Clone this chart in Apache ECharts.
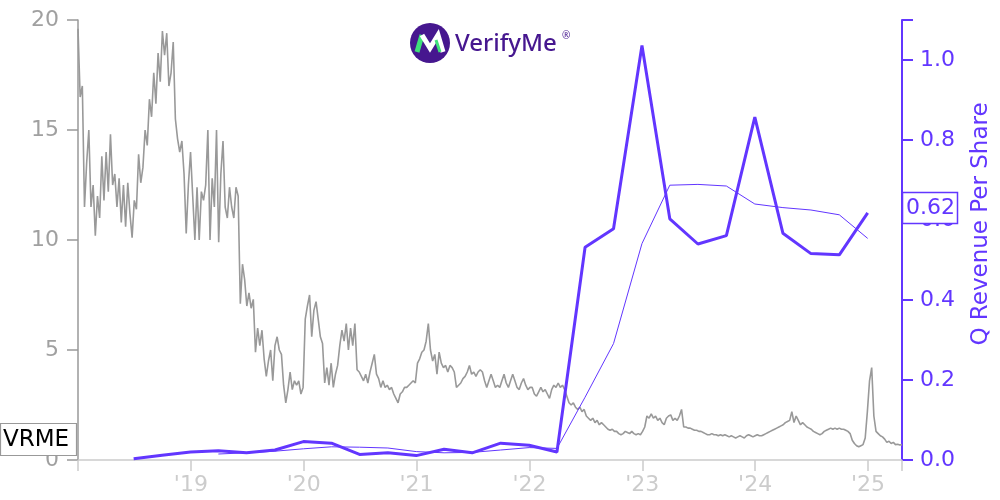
<!DOCTYPE html>
<html>
<head>
<meta charset="utf-8">
<script src="https://cdn.jsdelivr.net/npm/echarts@6/dist/echarts.min.js"></script>
<style>
html,body{margin:0;padding:0;background:#fff;}
#chart{width:1000px;height:500px;}
</style>
</head>
<body>
<div id="chart"></div>
<script>
// ---------- DATA ----------
const ticker = 'VRME';
const priceStart = '2018-01-01';   // weekly closes from this date
const priceStepDays = 7;
const price2018 = [19.6,16.5,17.0,11.5,13.5,15.0,11.5,12.5,10.2,12.0,11.0,13.8,11.8,14.0,12.2,14.8,12.5,13.0,11.5,12.8,10.8,12.5,10.6,12.6,11.2,10.1,11.8,11.4,13.9,12.6,13.3,15.0,14.3,16.4,15.6,17.6,16.2,18.5,17.2,19.5,18.4,19.4,17.0,17.6,19.0,15.5,14.6,14.0,14.5,13.0,10.3,12.5];
const price2019 = [14.0,12.0,10.0,12.4,10.0,12.2,11.8,12.5,15.0,10.0,12.8,11.5,15.0,9.9,13.0,14.5,11.5,11.0,12.4,11.5,11.0,12.4,12.0,7.1,8.9,8.2,7.0,7.6,6.9,7.3,4.9,6.0,5.2,5.9,4.6,3.8,4.5,5.0,3.6,5.2,5.6,5.0,4.8,3.4,2.6,3.2,4.0,3.2,3.6,3.4,3.6,3.0];
const price2020 = [3.3,6.4,7.0,7.5,5.6,6.8,7.2,6.4,5.6,5.3,3.5,4.2,3.4,4.4,3.3,3.9,4.3,5.2,5.9,5.4,6.2,5.0,6.0,5.2,6.2,4.1,4.0,3.8,3.6,3.9,3.5,4.0,4.4,4.8,3.9,3.7,3.3,3.6,3.3,3.4,3.2,3.3,3.0,2.8,2.6,3.0,3.1,3.3,3.3];
const price2021 = [3.4,3.5,3.6,3.5,4.4,4.6,4.9,5.0,5.4,6.2,5.0,4.5,4.8,3.9,4.9,4.4,4.2,4.3,4.0,4.3,4.2,4.0,3.3,3.4,3.5,3.7,3.8,4.0,4.3,3.9,4.0,3.8,4.0,4.1,4.0,3.6,3.3,3.6,3.9,3.6,3.3,3.4,3.3,3.6,3.9,3.5,3.3,3.6,3.9,3.6,3.3,3.2,3.5,3.7,3.4,3.2];
const price2022 = [3.3,3.3,3.0,2.9,3.1,3.3,3.1,3.2,3.0,2.8,3.2,3.4,3.3,3.5,3.3,3.4,3.2,2.9,2.6,2.5,2.6,2.4,2.3,2.4,2.2,2.3,2.0,1.9,1.8,1.9,1.7,1.8,1.6,1.7,1.6,1.5,1.4,1.35,1.4,1.3,1.3,1.2,1.15,1.2,1.3,1.25,1.2,1.3,1.2,1.15,1.2,1.15];
const price2023 = [1.3,1.5,2.0,1.9,2.1,1.9,2.0,1.8,1.9,1.7,1.6,1.9,2.0,2.05,1.8,1.9,1.8,2.0,2.3,1.5,1.5,1.45,1.45,1.4,1.35,1.35,1.3,1.3,1.25,1.2,1.15,1.15,1.2,1.15,1.15,1.1,1.15,1.1,1.15,1.1,1.05,1.1,1.05,1.0,1.05,1.1,1.05,1.0,1.1,1.15,1.1,1.05];
const price2024 = [1.1,1.15,1.1,1.1,1.15,1.2,1.25,1.3,1.35,1.4,1.45,1.5,1.55,1.6,1.7,1.75,1.8,2.2,1.7,2.0,1.8,1.6,1.7,1.6,1.5,1.45,1.4,1.3,1.25,1.2,1.15,1.2,1.3,1.35,1.4,1.45,1.4,1.45,1.4,1.45,1.4,1.4,1.35,1.3,1.2,0.9,0.75,0.65,0.6,0.65,0.7,1.0];
const price2025 = [2.2,3.6,4.2,2.0,1.3,1.2,1.1,1.05,0.95,0.8,0.85,0.75,0.8,0.7,0.72,0.68,0.7];

const revDates = ['2018-06-30','2018-09-30','2018-12-31','2019-03-31','2019-06-30','2019-09-30','2019-12-31','2020-03-31','2020-06-30','2020-09-30','2020-12-31','2021-03-31','2021-06-30','2021-09-30','2021-12-31','2022-03-31','2022-06-30','2022-09-30','2022-12-31','2023-03-31','2023-06-30','2023-09-30','2023-12-31','2024-03-31','2024-06-30','2024-09-30','2024-12-31'];
const revPerShare = [0.003,0.012,0.020,0.023,0.018,0.025,0.046,0.042,0.014,0.018,0.011,0.027,0.018,0.042,0.037,0.020,0.532,0.578,1.036,0.603,0.540,0.561,0.857,0.567,0.516,0.513,0.618];
const avgDates = revDates.slice(3);
const avgRevPerShare = [0.015,0.018,0.022,0.028,0.033,0.032,0.030,0.021,0.018,0.019,0.025,0.031,0.029,0.157,0.291,0.541,0.687,0.689,0.685,0.640,0.631,0.625,0.613,0.554];

const leftTicks = {min:0, max:20, interval:5};
const rightTicks = {min:0, max:1.1, interval:0.2};
const lastRevLabel = '0.62';
const rightAxisName = 'Q Revenue Per Share';
const brandName = 'VerifyMe';

// ---------- HELPERS ----------
function toYear(d){
  const y = d.getUTCFullYear();
  const s = Date.UTC(y,0,1), e = Date.UTC(y+1,0,1);
  return y + (d.getTime()-s)/(e-s);
}
function parseDate(str){ const p = str.split('-').map(Number); return new Date(Date.UTC(p[0],p[1]-1,p[2])); }

const priceAll = [].concat(price2018,price2019,price2020,price2021,price2022,price2023,price2024,price2025);
const startDate = parseDate(priceStart);
const priceData = priceAll.map((v,i)=>[toYear(new Date(startDate.getTime()+i*priceStepDays*86400000)), v]);
const revData = revDates.map((d,i)=>[toYear(parseDate(d)), revPerShare[i]]);
const avgData = avgDates.map((d,i)=>[toYear(parseDate(d)), avgRevPerShare[i]]);

const PURPLE = '#6236ff';
const FONT = 'DejaVu Sans';

const chart = echarts.init(document.getElementById('chart'), null, {renderer:'canvas'});
const option = {
  animation:false,
  backgroundColor:'#fff',
  grid:{left:78, right:98, top:20, bottom:40, containLabel:false},
  xAxis:{
    type:'value', min:2018, max:'dataMax', interval:1,
    axisLine:{show:true, onZero:false, lineStyle:{color:'#cccccc', width:1.5}},
    axisTick:{show:true, length:11, lineStyle:{color:'#cccccc', width:1.5}},
    axisLabel:{margin:14, color:'#cccccc', fontFamily:FONT, fontSize:22,
      formatter:function(v){ return (Math.abs(v-Math.round(v))<1e-6 && v>2018.5) ? "'" + String(Math.round(v)).slice(2) : ''; }},
    splitLine:{show:false}
  },
  yAxis:[{
    type:'value', position:'left', min:leftTicks.min, max:leftTicks.max, interval:leftTicks.interval,
    axisLine:{show:true, lineStyle:{color:'#999999', width:1.5}},
    axisTick:{show:true, length:11, lineStyle:{color:'#999999', width:1.5}},
    axisLabel:{margin:19, color:'#a0a0a0', fontFamily:FONT, fontSize:22},
    splitLine:{show:false}
  },{
    type:'value', position:'right', min:rightTicks.min, max:rightTicks.max, interval:rightTicks.interval,
    axisLine:{show:true, lineStyle:{color:PURPLE, width:2}},
    axisTick:{show:true, length:11, lineStyle:{color:PURPLE, width:2}},
    axisLabel:{margin:18, color:PURPLE, fontFamily:FONT, fontSize:22,
      formatter:function(v){ return v>1.05 ? '' : v.toFixed(1); }},
    splitLine:{show:false}
  }],
  series:[{
    type:'line', data:priceData, yAxisIndex:0, showSymbol:false, symbol:'none',
    lineStyle:{color:'#999999', width:1.6}, z:2
  },{
    type:'line', data:avgData, yAxisIndex:1, showSymbol:false, symbol:'none',
    lineStyle:{color:PURPLE, width:1}, z:3
  },{
    type:'line', data:revData, yAxisIndex:1, showSymbol:false, symbol:'none',
    lineStyle:{color:PURPLE, width:3}, z:4
  }],
  graphic:[
    // logo
    {type:'circle', shape:{cx:430, cy:43, r:20}, style:{fill:'#46178f'}, z:10},
    {type:'polyline', shape:{points:[[417,52],[422,35]]}, style:{stroke:'#3ee07a', lineWidth:5, fill:null}, z:11},
    {type:'polyline', shape:{points:[[422,35],[430,48],[438,35],[443,52]]}, style:{stroke:'#ffffff', lineWidth:5, fill:null, lineJoin:'miter'}, z:11},
    {type:'polyline', shape:{points:[[436,40],[440,52]]}, style:{stroke:'#3ee07a', lineWidth:3, fill:null}, z:12},
    {type:'text', x:455, y:44, style:{text:brandName, fill:'#46178f', font:'500 24px "Noto Sans"', verticalAlign:'middle', align:'left'}, z:10},
    {type:'text', x:562, y:36, style:{text:'®', fill:'#46178f', font:'10px "Noto Sans"', verticalAlign:'middle', align:'left'}, z:10},
    // ticker label
    {type:'rect', shape:{x:0.5, y:423.5, width:76, height:32}, style:{fill:'#fff', stroke:'#999', lineWidth:1.2}, z:20},
    {type:'text', x:3, y:440, style:{text:ticker, fill:'#000', font:'23px "DejaVu Sans"', align:'left', verticalAlign:'middle'}, z:21},
    // last value label
    {type:'rect', shape:{x:902.5, y:192.5, width:55, height:31}, style:{fill:'#fff', stroke:PURPLE, lineWidth:1.5}, z:20},
    {type:'text', x:906, y:208.5, style:{text:lastRevLabel, fill:PURPLE, font:'22px "DejaVu Sans"', align:'left', verticalAlign:'middle'}, z:21},
    // right axis name
    {type:'text', x:981, y:224, rotation:Math.PI/2, style:{text:rightAxisName, fill:PURPLE, font:'23px "DejaVu Sans"', align:'center', verticalAlign:'middle'}, z:20}
  ]
};
chart.setOption(option);
</script>
</body>
</html>
